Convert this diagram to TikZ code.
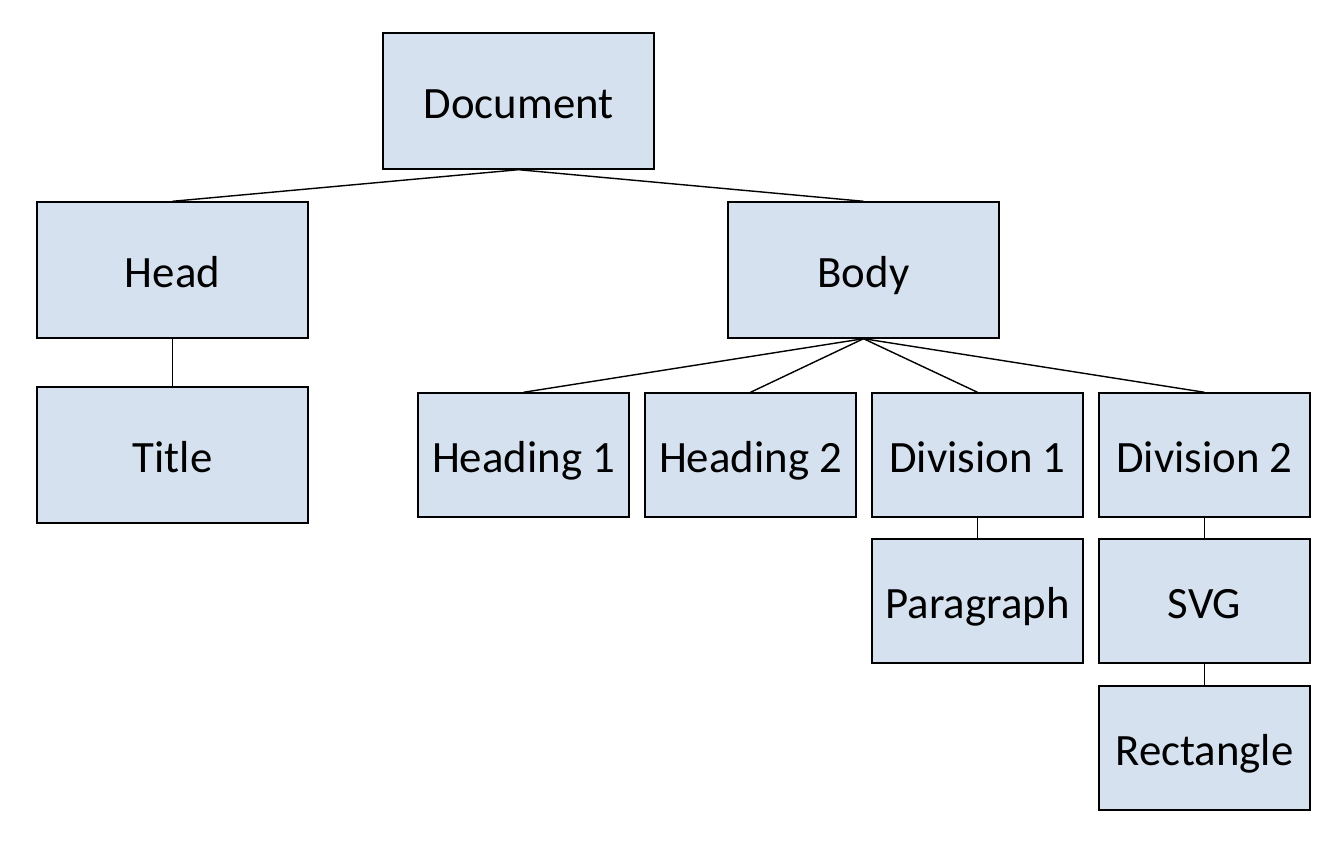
\documentclass[tikz,border=0pt]{standalone}
\usepackage{fontspec}
\setmainfont{Carlito}
\definecolor{boxblue}{RGB}{214,225,240}
\tikzset{
  big/.style={draw, fill=boxblue, line width=0.8pt, minimum width=5.42cm, minimum height=2.72cm, font=\fontsize{25.5}{30}\selectfont, text height=22pt, text depth=2pt},
  small/.style={draw, fill=boxblue, line width=0.8pt, minimum width=4.22cm, minimum height=2.48cm, font=\fontsize{25.5}{30}\selectfont, text height=22pt, text depth=2pt},
  link/.style={line width=0.8pt}
}
\begin{document}
\begin{tikzpicture}
			\useasboundingbox (0,0) rectangle (26.84,-17.04);
			\node[big] (doc) at (10.37,-2.02) {Document};
			\node[big] (head) at (3.45,-5.40) {Head};
			\node[big] (body) at (17.27,-5.40) {Body};
			\node[big] (title) at (3.45,-9.10) {Title};
			\node[small] (h1) at (10.47,-9.10) {Heading 1};
			\node[small] (h2) at (15.01,-9.10) {Heading 2};
			\node[small] (div1) at (19.55,-9.10) {Division 1};
			\node[small] (div2) at (24.09,-9.10) {Division 2};
			\node[small] (par) at (19.55,-12.02) {Paragraph};
			\node[small] (svg) at (24.09,-12.02) {SVG};
			\node[small] (rect) at (24.09,-14.96) {Rectangle};
			\draw[link] (doc.south) -- (head.north);
			\draw[link] (doc.south) -- (body.north);
			\draw[link] (head.south) -- (title.north);
			\draw[link] (body.south) -- (h1.north);
			\draw[link] (body.south) -- (h2.north);
			\draw[link] (body.south) -- (div1.north);
			\draw[link] (body.south) -- (div2.north);
			\draw[link] (div1.south) -- (par.north);
			\draw[link] (div2.south) -- (svg.north);
			\draw[link] (svg.south) -- (rect.north);
		\end{tikzpicture}
\end{document}
